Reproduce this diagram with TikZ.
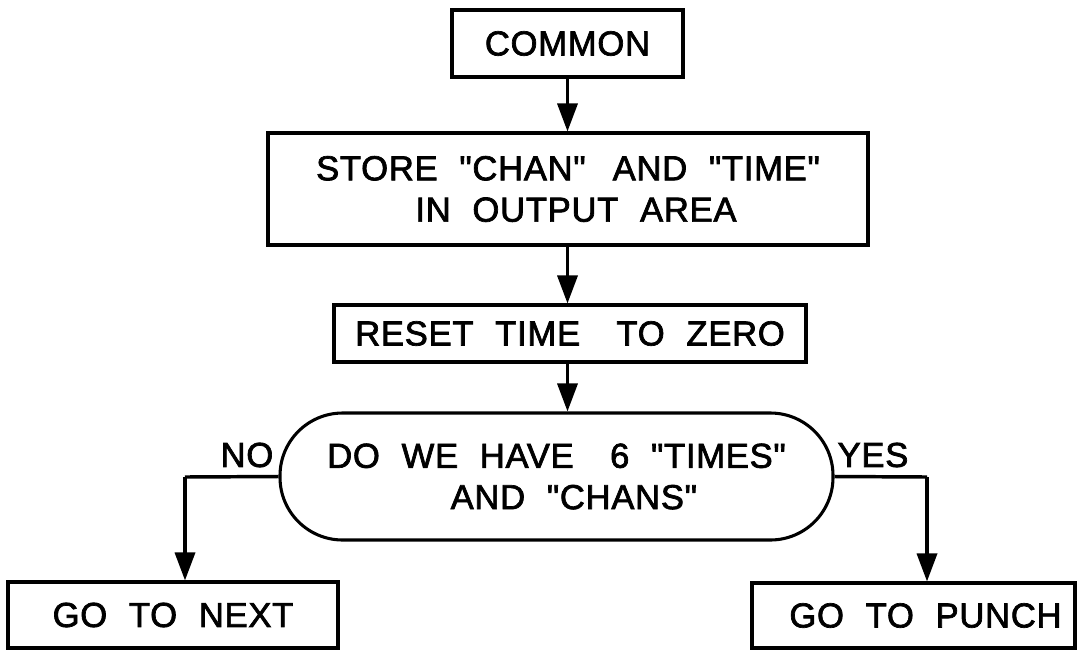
\documentclass[tikz,border=0pt]{standalone}
\usepackage{fontspec}
% lettering face: no TeX mapping, so " stays a straight double quote
\newfontfamily\lettering{Liberation Sans}[FakeBold=2,LetterSpace=2,WordSpace=2.1]
\usetikzlibrary{arrows.meta}
\begin{document}
\begin{tikzpicture}[x=0.75pt,y=-0.75pt,
  every node/.style={font=\lettering\fontsize{26}{31}\selectfont},
  box/.style={draw,line width=2.3pt,align=center,inner sep=0pt},
  term/.style={draw,line width=2.3pt,align=center,inner sep=0pt,rounded corners=47pt},
  flow/.style={line width=2.6pt,-{Triangle[length=21pt,width=15pt]}},
  lead/.style={line width=2.6pt}]
\useasboundingbox (0,0) rectangle (1078,651);
\fill[white] (0,0) rectangle (1078,651);

\node[box,minimum width=231*0.75pt,minimum height=67*0.75pt] (common) at (567.5,43.5) {COMMON};
\node[box,minimum width=600*0.75pt,minimum height=112*0.75pt] (store) at (568,189)
  {STORE "CHAN"\hspace{4pt} AND "TIME"\\ \hspace*{12pt}IN OUTPUT AREA};
\node[box,minimum width=472*0.75pt,minimum height=57*0.75pt] (reset) at (570,333.5)
  {RESET TIME\hspace{11pt} TO ZERO};
\node[term,minimum width=553*0.75pt,minimum height=127*0.75pt] (ask) at (556.5,476.5)
  {DO WE HAVE\hspace{11pt} 6 "TIMES"\\ \hspace*{26pt}AND "CHANS"};
\node[box,minimum width=330*0.75pt,minimum height=66*0.75pt] (next) at (173,615)
  {GO TO NEXT};
\node[box,minimum width=323*0.75pt,minimum height=65*0.75pt] (punch) at (913.5,615.5)
  {\hspace*{18pt}GO TO PUNCH};

\node (no) at (247,455) {NO};
\node (yes) at (873,455) {YES};

\coordinate (nobend) at (185,477);
\coordinate (yesbend) at (927,477);

\draw[flow] (common.south) -- (common.south |- store.north);
\draw[flow] (common.south |- store.south) -- (common.south |- reset.north);
\draw[flow] (common.south |- reset.south) -- (common.south |- ask.north);
\draw[lead] (ask.west) -- (nobend);
\draw[flow] (nobend) -- (nobend |- next.north);
\draw[lead] (ask.east) -- (yesbend);
\draw[flow] (yesbend) -- (yesbend |- punch.north);
\end{tikzpicture}
\end{document}
